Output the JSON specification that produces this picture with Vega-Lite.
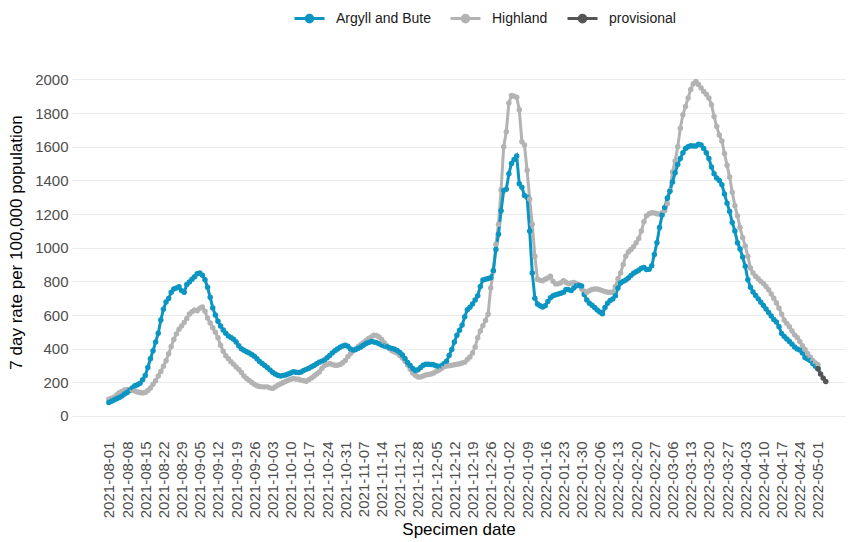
{
"$schema": "https://vega.github.io/schema/vega-lite/v6.json",
"autosize": {"type": "none"},
"width": 773, "height": 354,
"padding": {"left": 72, "top": 65, "right": 8, "bottom": 123},
"background": "white",
"config": {"font": "Liberation Sans", "view": {"stroke": null}},
"data": {"values": [
{"date":"2021-08-01","ab":80,"hl":100},{"date":"2021-08-02","ab":88,"hl":105},{"date":"2021-08-03","ab":95,"hl":112},{"date":"2021-08-04","ab":103,"hl":125},{"date":"2021-08-05","ab":110,"hl":138},{"date":"2021-08-06","ab":118,"hl":146},{"date":"2021-08-07","ab":130,"hl":154},{"date":"2021-08-08","ab":140,"hl":157},{"date":"2021-08-09","ab":152,"hl":157},{"date":"2021-08-10","ab":167,"hl":154},
{"date":"2021-08-11","ab":180,"hl":148},{"date":"2021-08-12","ab":186,"hl":143},{"date":"2021-08-13","ab":195,"hl":140},{"date":"2021-08-14","ab":215,"hl":137},{"date":"2021-08-15","ab":240,"hl":140},{"date":"2021-08-16","ab":288,"hl":152},{"date":"2021-08-17","ab":340,"hl":166},{"date":"2021-08-18","ab":388,"hl":188},{"date":"2021-08-19","ab":440,"hl":210},{"date":"2021-08-20","ab":491,"hl":238},
{"date":"2021-08-21","ab":570,"hl":265},{"date":"2021-08-22","ab":635,"hl":295},{"date":"2021-08-23","ab":678,"hl":328},{"date":"2021-08-24","ab":698,"hl":370},{"date":"2021-08-25","ab":735,"hl":413},{"date":"2021-08-26","ab":755,"hl":455},{"date":"2021-08-27","ab":760,"hl":488},{"date":"2021-08-28","ab":768,"hl":515},{"date":"2021-08-29","ab":745,"hl":535},{"date":"2021-08-30","ab":735,"hl":555},
{"date":"2021-08-31","ab":782,"hl":580},{"date":"2021-09-01","ab":797,"hl":606},{"date":"2021-09-02","ab":812,"hl":620},{"date":"2021-09-03","ab":828,"hl":630},{"date":"2021-09-04","ab":845,"hl":625},{"date":"2021-09-05","ab":850,"hl":640},{"date":"2021-09-06","ab":836,"hl":648},{"date":"2021-09-07","ab":810,"hl":622},{"date":"2021-09-08","ab":765,"hl":582},{"date":"2021-09-09","ab":705,"hl":552},
{"date":"2021-09-10","ab":642,"hl":525},{"date":"2021-09-11","ab":600,"hl":497},{"date":"2021-09-12","ab":563,"hl":465},{"date":"2021-09-13","ab":535,"hl":420},{"date":"2021-09-14","ab":511,"hl":385},{"date":"2021-09-15","ab":492,"hl":358},{"date":"2021-09-16","ab":476,"hl":340},{"date":"2021-09-17","ab":466,"hl":323},{"date":"2021-09-18","ab":456,"hl":307},{"date":"2021-09-19","ab":440,"hl":291},
{"date":"2021-09-20","ab":418,"hl":277},{"date":"2021-09-21","ab":400,"hl":258},{"date":"2021-09-22","ab":390,"hl":238},{"date":"2021-09-23","ab":382,"hl":223},{"date":"2021-09-24","ab":375,"hl":211},{"date":"2021-09-25","ab":366,"hl":199},{"date":"2021-09-26","ab":355,"hl":188},{"date":"2021-09-27","ab":340,"hl":180},{"date":"2021-09-28","ab":324,"hl":175},{"date":"2021-09-29","ab":312,"hl":173},
{"date":"2021-09-30","ab":300,"hl":173},{"date":"2021-10-01","ab":288,"hl":173},{"date":"2021-10-02","ab":274,"hl":167},{"date":"2021-10-03","ab":260,"hl":164},{"date":"2021-10-04","ab":250,"hl":172},{"date":"2021-10-05","ab":242,"hl":182},{"date":"2021-10-06","ab":237,"hl":190},{"date":"2021-10-07","ab":240,"hl":198},{"date":"2021-10-08","ab":244,"hl":205},{"date":"2021-10-09","ab":250,"hl":212},
{"date":"2021-10-10","ab":256,"hl":218},{"date":"2021-10-11","ab":263,"hl":223},{"date":"2021-10-12","ab":260,"hl":220},{"date":"2021-10-13","ab":258,"hl":218},{"date":"2021-10-14","ab":262,"hl":213},{"date":"2021-10-15","ab":270,"hl":209},{"date":"2021-10-16","ab":277,"hl":207},{"date":"2021-10-17","ab":284,"hl":216},{"date":"2021-10-18","ab":292,"hl":226},{"date":"2021-10-19","ab":300,"hl":237},
{"date":"2021-10-20","ab":310,"hl":249},{"date":"2021-10-21","ab":320,"hl":262},{"date":"2021-10-22","ab":326,"hl":282},{"date":"2021-10-23","ab":332,"hl":300},{"date":"2021-10-24","ab":346,"hl":306},{"date":"2021-10-25","ab":360,"hl":312},{"date":"2021-10-26","ab":375,"hl":306},{"date":"2021-10-27","ab":388,"hl":302},{"date":"2021-10-28","ab":398,"hl":302},{"date":"2021-10-29","ab":408,"hl":306},
{"date":"2021-10-30","ab":416,"hl":316},{"date":"2021-10-31","ab":421,"hl":330},{"date":"2021-11-01","ab":414,"hl":352},{"date":"2021-11-02","ab":398,"hl":370},{"date":"2021-11-03","ab":392,"hl":386},{"date":"2021-11-04","ab":395,"hl":400},{"date":"2021-11-05","ab":402,"hl":413},{"date":"2021-11-06","ab":410,"hl":425},{"date":"2021-11-07","ab":420,"hl":436},{"date":"2021-11-08","ab":431,"hl":448},
{"date":"2021-11-09","ab":437,"hl":460},{"date":"2021-11-10","ab":442,"hl":470},{"date":"2021-11-11","ab":440,"hl":480},{"date":"2021-11-12","ab":436,"hl":478},{"date":"2021-11-13","ab":429,"hl":470},{"date":"2021-11-14","ab":422,"hl":455},{"date":"2021-11-15","ab":416,"hl":436},{"date":"2021-11-16","ab":411,"hl":418},{"date":"2021-11-17","ab":406,"hl":400},{"date":"2021-11-18","ab":401,"hl":388},
{"date":"2021-11-19","ab":396,"hl":380},{"date":"2021-11-20","ab":389,"hl":374},{"date":"2021-11-21","ab":378,"hl":360},{"date":"2021-11-22","ab":362,"hl":345},{"date":"2021-11-23","ab":342,"hl":325},{"date":"2021-11-24","ab":318,"hl":303},{"date":"2021-11-25","ab":300,"hl":278},{"date":"2021-11-26","ab":282,"hl":255},{"date":"2021-11-27","ab":270,"hl":242},{"date":"2021-11-28","ab":275,"hl":232},
{"date":"2021-11-29","ab":288,"hl":232},{"date":"2021-11-30","ab":302,"hl":238},{"date":"2021-12-01","ab":308,"hl":243},{"date":"2021-12-02","ab":308,"hl":246},{"date":"2021-12-03","ab":306,"hl":250},{"date":"2021-12-04","ab":304,"hl":256},{"date":"2021-12-05","ab":298,"hl":265},{"date":"2021-12-06","ab":294,"hl":272},{"date":"2021-12-07","ab":298,"hl":282},{"date":"2021-12-08","ab":310,"hl":292},
{"date":"2021-12-09","ab":325,"hl":297},{"date":"2021-12-10","ab":360,"hl":299},{"date":"2021-12-11","ab":395,"hl":301},{"date":"2021-12-12","ab":440,"hl":304},{"date":"2021-12-13","ab":480,"hl":307},{"date":"2021-12-14","ab":510,"hl":310},{"date":"2021-12-15","ab":540,"hl":315},{"date":"2021-12-16","ab":590,"hl":320},{"date":"2021-12-17","ab":632,"hl":335},{"date":"2021-12-18","ab":646,"hl":350},
{"date":"2021-12-19","ab":665,"hl":375},{"date":"2021-12-20","ab":690,"hl":410},{"date":"2021-12-21","ab":715,"hl":465},{"date":"2021-12-22","ab":770,"hl":505},{"date":"2021-12-23","ab":808,"hl":537},{"date":"2021-12-24","ab":812,"hl":568},{"date":"2021-12-25","ab":817,"hl":605},{"date":"2021-12-26","ab":822,"hl":760},{"date":"2021-12-27","ab":864,"hl":860},{"date":"2021-12-28","ab":990,"hl":1020},
{"date":"2021-12-29","ab":1080,"hl":1140},{"date":"2021-12-30","ab":1220,"hl":1345},{"date":"2021-12-31","ab":1340,"hl":1600},{"date":"2022-01-01","ab":1347,"hl":1690},{"date":"2022-01-02","ab":1440,"hl":1860},{"date":"2022-01-03","ab":1500,"hl":1905},{"date":"2022-01-04","ab":1525,"hl":1900},{"date":"2022-01-05","ab":1545,"hl":1895},{"date":"2022-01-06","ab":1380,"hl":1820},{"date":"2022-01-07","ab":1360,"hl":1630},
{"date":"2022-01-08","ab":1310,"hl":1610},{"date":"2022-01-09","ab":1300,"hl":1460},{"date":"2022-01-10","ab":1100,"hl":1290},{"date":"2022-01-11","ab":850,"hl":1140},{"date":"2022-01-12","ab":700,"hl":950},{"date":"2022-01-13","ab":665,"hl":812},{"date":"2022-01-14","ab":655,"hl":806},{"date":"2022-01-15","ab":648,"hl":804},{"date":"2022-01-16","ab":655,"hl":812},{"date":"2022-01-17","ab":680,"hl":820},
{"date":"2022-01-18","ab":702,"hl":830},{"date":"2022-01-19","ab":715,"hl":800},{"date":"2022-01-20","ab":720,"hl":785},{"date":"2022-01-21","ab":725,"hl":786},{"date":"2022-01-22","ab":730,"hl":792},{"date":"2022-01-23","ab":735,"hl":804},{"date":"2022-01-24","ab":752,"hl":795},{"date":"2022-01-25","ab":750,"hl":786},{"date":"2022-01-26","ab":745,"hl":790},{"date":"2022-01-27","ab":760,"hl":794},
{"date":"2022-01-28","ab":774,"hl":788},{"date":"2022-01-29","ab":776,"hl":780},{"date":"2022-01-30","ab":772,"hl":755},{"date":"2022-01-31","ab":722,"hl":742},{"date":"2022-02-01","ab":690,"hl":736},{"date":"2022-02-02","ab":670,"hl":744},{"date":"2022-02-03","ab":658,"hl":752},{"date":"2022-02-04","ab":645,"hl":755},{"date":"2022-02-05","ab":630,"hl":755},{"date":"2022-02-06","ab":618,"hl":750},
{"date":"2022-02-07","ab":608,"hl":745},{"date":"2022-02-08","ab":645,"hl":740},{"date":"2022-02-09","ab":670,"hl":736},{"date":"2022-02-10","ab":686,"hl":735},{"date":"2022-02-11","ab":695,"hl":735},{"date":"2022-02-12","ab":715,"hl":770},{"date":"2022-02-13","ab":760,"hl":815},{"date":"2022-02-14","ab":790,"hl":850},{"date":"2022-02-15","ab":800,"hl":900},{"date":"2022-02-16","ab":808,"hl":950},
{"date":"2022-02-17","ab":820,"hl":975},{"date":"2022-02-18","ab":835,"hl":990},{"date":"2022-02-19","ab":848,"hl":1006},{"date":"2022-02-20","ab":857,"hl":1030},{"date":"2022-02-21","ab":866,"hl":1055},{"date":"2022-02-22","ab":878,"hl":1100},{"date":"2022-02-23","ab":882,"hl":1155},{"date":"2022-02-24","ab":870,"hl":1190},{"date":"2022-02-25","ab":872,"hl":1202},{"date":"2022-02-26","ab":893,"hl":1208},
{"date":"2022-02-27","ab":960,"hl":1206},{"date":"2022-02-28","ab":1030,"hl":1202},{"date":"2022-03-01","ab":1120,"hl":1199},{"date":"2022-03-02","ab":1195,"hl":1208},{"date":"2022-03-03","ab":1239,"hl":1220},{"date":"2022-03-04","ab":1295,"hl":1262},{"date":"2022-03-05","ab":1335,"hl":1340},{"date":"2022-03-06","ab":1390,"hl":1450},{"date":"2022-03-07","ab":1446,"hl":1516},{"date":"2022-03-08","ab":1495,"hl":1600},
{"date":"2022-03-09","ab":1530,"hl":1710},{"date":"2022-03-10","ab":1565,"hl":1790},{"date":"2022-03-11","ab":1590,"hl":1840},{"date":"2022-03-12","ab":1600,"hl":1890},{"date":"2022-03-13","ab":1606,"hl":1940},{"date":"2022-03-14","ab":1605,"hl":1975},{"date":"2022-03-15","ab":1604,"hl":1988},{"date":"2022-03-16","ab":1615,"hl":1970},{"date":"2022-03-17","ab":1610,"hl":1950},{"date":"2022-03-18","ab":1590,"hl":1928},
{"date":"2022-03-19","ab":1565,"hl":1912},{"date":"2022-03-20","ab":1530,"hl":1890},{"date":"2022-03-21","ab":1480,"hl":1850},{"date":"2022-03-22","ab":1440,"hl":1780},{"date":"2022-03-23","ab":1415,"hl":1720},{"date":"2022-03-24","ab":1400,"hl":1670},{"date":"2022-03-25","ab":1375,"hl":1634},{"date":"2022-03-26","ab":1320,"hl":1560},{"date":"2022-03-27","ab":1265,"hl":1490},{"date":"2022-03-28","ab":1215,"hl":1420},
{"date":"2022-03-29","ab":1150,"hl":1330},{"date":"2022-03-30","ab":1100,"hl":1250},{"date":"2022-03-31","ab":1030,"hl":1190},{"date":"2022-04-01","ab":992,"hl":1120},{"date":"2022-04-02","ab":945,"hl":1060},{"date":"2022-04-03","ab":890,"hl":1010},{"date":"2022-04-04","ab":810,"hl":950},{"date":"2022-04-05","ab":765,"hl":880},{"date":"2022-04-06","ab":737,"hl":850},{"date":"2022-04-07","ab":716,"hl":830},
{"date":"2022-04-08","ab":696,"hl":815},{"date":"2022-04-09","ab":676,"hl":800},{"date":"2022-04-10","ab":656,"hl":787},{"date":"2022-04-11","ab":636,"hl":770},{"date":"2022-04-12","ab":615,"hl":750},{"date":"2022-04-13","ab":594,"hl":725},{"date":"2022-04-14","ab":573,"hl":700},{"date":"2022-04-15","ab":558,"hl":672},{"date":"2022-04-16","ab":530,"hl":640},{"date":"2022-04-17","ab":490,"hl":605},
{"date":"2022-04-18","ab":473,"hl":570},{"date":"2022-04-19","ab":458,"hl":550},{"date":"2022-04-20","ab":443,"hl":530},{"date":"2022-04-21","ab":427,"hl":505},{"date":"2022-04-22","ab":410,"hl":482},{"date":"2022-04-23","ab":398,"hl":466},{"date":"2022-04-24","ab":392,"hl":443},{"date":"2022-04-25","ab":375,"hl":418},{"date":"2022-04-26","ab":348,"hl":395},{"date":"2022-04-27","ab":338,"hl":372},
{"date":"2022-04-28","ab":330,"hl":350},{"date":"2022-04-29","ab":312,"hl":330},{"date":"2022-04-30","ab":295,"hl":315},{"date":"2022-05-01","ab":280,"hl":305,"prov":280},{"date":"2022-05-02","prov":250},{"date":"2022-05-03","prov":225},{"date":"2022-05-04","prov":205}
]},
"transform": [
  {"fold": ["hl", "ab", "prov"], "as": ["series", "rate"]},
  {"filter": "isValid(datum.rate)"}
],
"mark": {"type": "line", "strokeWidth": 3, "point": {"filled": true, "size": 30}},
"encoding": {
  "x": {
    "field": "date", "type": "temporal",
    "scale": {"type": "utc", "domain": [1626549120000, 1652261760000]},
    "axis": {
      "title": "Specimen date",
      "tickCount": {"interval": "week", "step": 1},
      "labelExpr": "datum.value < 1627700000000 || datum.value > 1651400000000 ? '' : utcFormat(datum.value, '%Y-%m-%d')",
      "labelAngle": -90, "labelOverlap": false, "labelPadding": 22,
      "labelFontSize": 15, "labelColor": "#4d4d4d",
      "grid": false, "domain": false, "ticks": false,
      "titleFontSize": 17, "titleFontWeight": "normal", "titleColor": "#000000", "titlePadding": 4
    }
  },
  "y": {
    "field": "rate", "type": "quantitative",
    "scale": {"domain": [-18, 2086], "nice": false, "zero": false},
    "axis": {
      "title": "7 day rate per 100,000 population", "format": "d",
      "values": [0, 200, 400, 600, 800, 1000, 1200, 1400, 1600, 1800, 2000],
      "labelFontSize": 15, "labelColor": "#4d4d4d", "labelPadding": 4,
      "grid": true, "gridColor": "#ebebeb", "gridWidth": 1, "domain": false, "ticks": false,
      "titleFontSize": 17, "titleFontWeight": "normal", "titleColor": "#000000", "titlePadding": 9
    }
  },
  "color": {
    "field": "series", "type": "nominal",
    "scale": {"domain": ["ab", "hl", "prov"], "range": ["#0b95c2", "#b3b3b3", "#555555"]},
    "legend": {
      "title": null, "orient": "none", "direction": "horizontal",
      "legendX": 221, "legendY": -63,
      "labelExpr": "datum.label == 'ab' ? 'Argyll and Bute' : datum.label == 'hl' ? 'Highland' : 'provisional'",
      "labelFontSize": 14, "labelColor": "#1a1a1a", "labelOffset": 10,
      "symbolType": "M-1,0L1,0M-0.22,0A0.22,0.22,0,1,1,0.22,0A0.22,0.22,0,1,1,-0.22,0",
      "symbolSize": 900, "symbolStrokeWidth": 3, "columnPadding": 13
    }
  }
}
}
